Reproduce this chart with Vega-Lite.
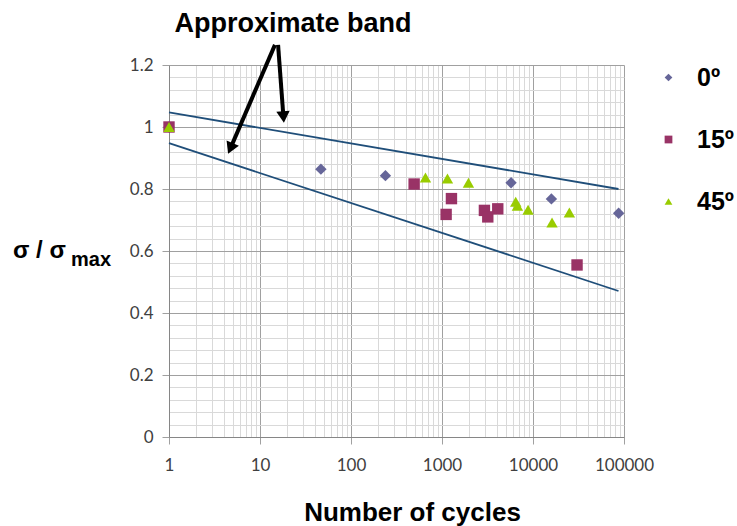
{
  "$schema": "https://vega.github.io/schema/vega-lite/v6.json",
  "width": 455,
  "height": 372,
  "autosize": {"type": "none"},
  "padding": {"left": 169, "top": 65, "right": 113, "bottom": 89},
  "background": "white",
  "config": {
    "view": {"stroke": null},
    "font": "Liberation Sans"
  },
  "encoding": {
    "x": {
      "field": "n",
      "type": "quantitative",
      "scale": {"type": "log", "domain": [1, 100000], "nice": false},
      "axis": {
        "orient": "bottom",
        "values": [1,2,3,4,5,6,7,8,9,10,20,30,40,50,60,70,80,90,100,200,300,400,500,600,700,800,900,1000,2000,3000,4000,5000,6000,7000,8000,9000,10000,20000,30000,40000,50000,60000,70000,80000,90000,100000],
        "grid": true,
        "gridColor": {"condition": {"test": "abs(log(datum.value)/LN10 - round(log(datum.value)/LN10)) < 1e-6", "value": "#a0a0a0"}, "value": "#d9d9d9"},
        "gridWidth": 1,
        "tickColor": {"condition": {"test": "abs(log(datum.value)/LN10 - round(log(datum.value)/LN10)) < 1e-6", "value": "#a0a0a0"}, "value": "transparent"},
        "tickSize": 7,
        "labelExpr": "abs(log(datum.value)/LN10 - round(log(datum.value)/LN10)) < 1e-6 ? format(datum.value, 'd') : ''",
        "labelOverlap": false,
        "labelFlush": false,
        "labelFont": "Lato",
        "labelFontSize": 17,
        "labelColor": "#404040",
        "labelPadding": 13,
        "domainColor": "#868686",
        "title": "Number of cycles",
        "titleFont": "Liberation Sans",
        "titleFontSize": 26,
        "titleFontWeight": "bold",
        "titleColor": "#000000",
        "titleX": 243,
        "titleY": 83,
        "titleBaseline": "alphabetic",
        "titleAlign": "center"
      }
    },
    "y": {
      "field": "s",
      "type": "quantitative",
      "scale": {"domain": [0, 1.2], "nice": false, "zero": false},
      "axis": {
        "orient": "left",
        "values": [0,0.04,0.08,0.12,0.16,0.2,0.24,0.28,0.32,0.36,0.4,0.44,0.48,0.52,0.56,0.6,0.64,0.68,0.72,0.76,0.8,0.84,0.88,0.92,0.96,1,1.04,1.08,1.12,1.16,1.2],
        "grid": true,
        "gridColor": {"condition": {"test": "abs(datum.value*5 - round(datum.value*5)) < 1e-6", "value": "#a0a0a0"}, "value": "#d9d9d9"},
        "tickColor": {"condition": {"test": "abs(datum.value*5 - round(datum.value*5)) < 1e-6", "value": "#a0a0a0"}, "value": "transparent"},
        "tickSize": 7,
        "labelExpr": "abs(datum.value*5 - round(datum.value*5)) < 1e-6 ? format(datum.value, '~g') : ''",
        "labelOverlap": false,
        "labelFlush": false,
        "labelFont": "Lato",
        "labelFontSize": 17,
        "labelColor": "#404040",
        "labelPadding": 9,
        "domainColor": "#868686",
        "title": null
      }
    }
  },
  "layer": [
    {
      "data": {"values": [
        {"band": "upper", "n": 1, "s": 1.047},
        {"band": "upper", "n": 87000, "s": 0.8},
        {"band": "lower", "n": 1, "s": 0.948},
        {"band": "lower", "n": 87000, "s": 0.471}
      ]},
      "mark": {"type": "line", "color": "#1F4E79", "strokeWidth": 1.8},
      "encoding": {"detail": {"field": "band"}}
    },
    {
      "data": {"values": [
        {"series": "0º", "n": 1, "s": 1.0},
        {"series": "0º", "n": 46.7, "s": 0.864},
        {"series": "0º", "n": 239, "s": 0.843},
        {"series": "0º", "n": 5740, "s": 0.82},
        {"series": "0º", "n": 15930, "s": 0.768},
        {"series": "0º", "n": 87300, "s": 0.722},
        {"series": "15º", "n": 1, "s": 1.0},
        {"series": "15º", "n": 494, "s": 0.816},
        {"series": "15º", "n": 1270, "s": 0.769},
        {"series": "15º", "n": 1110, "s": 0.718},
        {"series": "15º", "n": 2925, "s": 0.731},
        {"series": "15º", "n": 3185, "s": 0.71},
        {"series": "15º", "n": 4100, "s": 0.736},
        {"series": "15º", "n": 30480, "s": 0.555},
        {"series": "45º", "n": 1, "s": 1.0},
        {"series": "45º", "n": 658, "s": 0.837},
        {"series": "45º", "n": 1148, "s": 0.834},
        {"series": "45º", "n": 1953, "s": 0.82},
        {"series": "45º", "n": 6460, "s": 0.759},
        {"series": "45º", "n": 6740, "s": 0.746},
        {"series": "45º", "n": 8830, "s": 0.733},
        {"series": "45º", "n": 16190, "s": 0.692},
        {"series": "45º", "n": 25100, "s": 0.724}
      ]},
      "mark": {"type": "point", "filled": true, "opacity": 1, "size": 130, "strokeWidth": 0},
      "encoding": {
        "color": {
          "field": "series", "type": "nominal",
          "scale": {"domain": ["0º", "15º", "45º"], "range": ["#666699", "#993366", "#99CC00"]},
          "legend": {
            "orient": "none", "legendX": 487, "legendY": 0, "title": null,
            "symbolSize": 60, "symbolStrokeWidth": 0,
            "labelFont": "Liberation Sans", "labelFontSize": 25, "labelFontWeight": "bold", "labelColor": "#000000",
            "rowPadding": 36, "labelOffset": 16
          }
        },
        "shape": {
          "field": "series", "type": "nominal",
          "scale": {"domain": ["0º", "15º", "45º"], "range": ["diamond", "square", "triangle-up"]},
          "legend": {
            "orient": "none", "legendX": 487, "legendY": 0, "title": null,
            "symbolSize": 60, "symbolStrokeWidth": 0,
            "labelFont": "Liberation Sans", "labelFontSize": 25, "labelFontWeight": "bold", "labelColor": "#000000",
            "rowPadding": 36, "labelOffset": 16
          }
        }
      }
    },
    {
      "data": {"values": [
        {"arrow": "lower", "n": 14.6, "s": 1.265, "n2": 4.73, "s2": 0.931},
        {"arrow": "upper", "n": 15.8, "s": 1.265, "n2": 18.1, "s2": 1.032}
      ]},
      "mark": {"type": "rule", "color": "#000000", "strokeWidth": 4},
      "encoding": {
        "x2": {"field": "n2"},
        "y2": {"field": "s2"}
      }
    },
    {
      "data": {"values": [{"arrow": "lower", "n": 4.73, "s": 0.931}]},
      "mark": {"type": "point", "shape": "triangle-up", "filled": true, "color": "#000000", "opacity": 1, "size": 180, "angle": 203.5},
      "encoding": {}
    },
    {
      "data": {"values": [{"arrow": "upper", "n": 18.1, "s": 1.032}]},
      "mark": {"type": "point", "shape": "triangle-up", "filled": true, "color": "#000000", "opacity": 1, "size": 180, "angle": 175.5},
      "encoding": {}
    },
    {
      "data": {"values": [{"label": "Approximate band", "n": 23.05, "s": 1.306}]},
      "mark": {"type": "text", "align": "center", "baseline": "alphabetic", "fontSize": 27, "fontWeight": "bold", "color": "#000000", "font": "Liberation Sans"},
      "encoding": {"text": {"field": "label"}}
    },
    {
      "data": {"values": [{"label": "σ / σ", "n": 0.0193, "s": 0.5774}]},
      "mark": {"type": "text", "align": "left", "baseline": "alphabetic", "fontSize": 24, "fontWeight": "bold", "color": "#000000", "font": "Liberation Sans"},
      "encoding": {"text": {"field": "label"}}
    },
    {
      "data": {"values": [{"label": "max", "n": 0.0838, "s": 0.5516}]},
      "mark": {"type": "text", "align": "left", "baseline": "alphabetic", "fontSize": 20, "fontWeight": "bold", "color": "#000000", "font": "Liberation Sans"},
      "encoding": {"text": {"field": "label"}}
    }
  ]
}
